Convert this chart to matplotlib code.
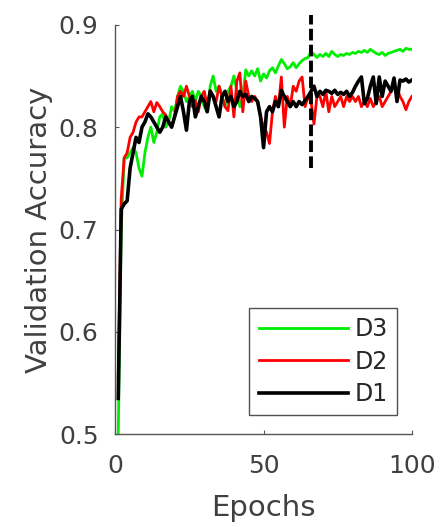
import numpy as np
import matplotlib
matplotlib.use('Agg')
import matplotlib.pyplot as plt

plt.rcParams['font.family'] = ['DejaVu Sans']

# validation accuracy per epoch (1..100) for the three datasets
epochs = np.arange(1, 101)

acc_d3 = [0.500, 0.700, 0.770, 0.770, 0.775, 0.780, 0.775, 0.760, 0.752, 0.775,
          0.790, 0.800, 0.785, 0.795, 0.810, 0.813, 0.800, 0.805, 0.820, 0.815,
          0.830, 0.840, 0.835, 0.825, 0.830, 0.835, 0.825, 0.835, 0.830, 0.820,
          0.815, 0.840, 0.850, 0.835, 0.840, 0.830, 0.820, 0.835, 0.840, 0.850,
          0.835, 0.820, 0.830, 0.856, 0.850, 0.855, 0.850, 0.857, 0.845, 0.852,
          0.848, 0.855, 0.858, 0.853, 0.860, 0.866, 0.862, 0.857, 0.859, 0.863,
          0.858, 0.862, 0.865, 0.867, 0.868, 0.874, 0.871, 0.868, 0.871, 0.869,
          0.872, 0.869, 0.874, 0.871, 0.869, 0.871, 0.870, 0.872, 0.871, 0.873,
          0.872, 0.874, 0.873, 0.875, 0.873, 0.876, 0.874, 0.872, 0.871, 0.873,
          0.870, 0.872, 0.873, 0.874, 0.875, 0.876, 0.874, 0.877, 0.876, 0.876]

acc_d2 = [0.555, 0.730, 0.770, 0.775, 0.790, 0.795, 0.805, 0.810, 0.810, 0.815,
          0.820, 0.825, 0.815, 0.824, 0.820, 0.815, 0.812, 0.805, 0.800, 0.810,
          0.830, 0.835, 0.830, 0.840, 0.830, 0.820, 0.826, 0.815, 0.830, 0.835,
          0.820, 0.836, 0.830, 0.825, 0.840, 0.830, 0.820, 0.816, 0.840, 0.810,
          0.845, 0.853, 0.815, 0.845, 0.830, 0.825, 0.830, 0.825, 0.810, 0.800,
          0.795, 0.784, 0.815, 0.830, 0.820, 0.849, 0.800, 0.830, 0.820, 0.840,
          0.835, 0.845, 0.849, 0.820, 0.830, 0.825, 0.803, 0.830, 0.830, 0.820,
          0.835, 0.815, 0.830, 0.820, 0.825, 0.830, 0.820, 0.830, 0.825, 0.830,
          0.825, 0.830, 0.820, 0.825, 0.820, 0.828, 0.820, 0.825, 0.830, 0.820,
          0.825, 0.830, 0.835, 0.840, 0.838, 0.830, 0.825, 0.817, 0.825, 0.830]

acc_d1 = [0.535, 0.720, 0.725, 0.728, 0.760, 0.775, 0.790, 0.785, 0.800, 0.805,
          0.813, 0.810, 0.805, 0.800, 0.795, 0.800, 0.810, 0.805, 0.800, 0.810,
          0.820, 0.830, 0.815, 0.797, 0.825, 0.830, 0.810, 0.820, 0.830, 0.825,
          0.815, 0.835, 0.830, 0.820, 0.810, 0.830, 0.835, 0.825, 0.830, 0.820,
          0.825, 0.835, 0.830, 0.832, 0.825, 0.830, 0.828, 0.825, 0.810, 0.780,
          0.815, 0.820, 0.815, 0.825, 0.820, 0.836, 0.830, 0.825, 0.820, 0.825,
          0.820, 0.825, 0.822, 0.826, 0.830, 0.835, 0.840, 0.830, 0.835, 0.832,
          0.836, 0.835, 0.833, 0.836, 0.832, 0.834, 0.832, 0.835, 0.830, 0.834,
          0.840, 0.845, 0.849, 0.823, 0.828, 0.840, 0.849, 0.823, 0.849, 0.830,
          0.845, 0.840, 0.835, 0.848, 0.825, 0.846, 0.845, 0.847, 0.844, 0.846]

split_epoch = 66
split_span = (0.76, 0.91)

fig = plt.figure(figsize=(4.4, 5.27), dpi=100)
ax = fig.add_axes([0.262, 0.176, 0.674, 0.777])

l3, = ax.plot(epochs, acc_d3, color='#00ee00', lw=2.0, label='D3')
l2, = ax.plot(epochs, acc_d2, color='#ff0000', lw=2.0, label='D2')
l1, = ax.plot(epochs, acc_d1, color='#000000', lw=2.6, label='D1')

# dashed marker at the split epoch, drawn past the top of the axes
ax.plot([split_epoch, split_epoch], split_span, color='black', lw=2.8,
        dashes=(3, 1.1), clip_on=False)

ax.set_xlim(0, 100)
ax.set_ylim(0.5, 0.9)
ax.set_xticks([0, 50, 100])
ax.set_yticks([0.5, 0.6, 0.7, 0.8, 0.9])
ax.set_yticklabels(['0.5', '0.6', '0.7', '0.8', '0.9'])

for s in ['top', 'right']:
    ax.spines[s].set_visible(False)
for s in ['left', 'bottom']:
    ax.spines[s].set_color('#555555')
    ax.spines[s].set_linewidth(1.0)

ax.tick_params(direction='in', length=3, width=0.8, color='#555555',
               labelsize=18, labelcolor='#404040')
ax.tick_params(axis='x', pad=14)
ax.tick_params(axis='y', pad=12)

ax.set_xlabel('Epochs', fontsize=21, color='#404040', labelpad=12)
ax.set_ylabel('Validation Accuracy', fontsize=21, color='#404040', labelpad=4)

leg = ax.legend(handles=[l3, l2, l1], loc='lower right', fontsize=17,
                frameon=True, fancybox=False, handlelength=3.8,
                handletextpad=0.25, labelspacing=0.35, borderpad=0.4,
                borderaxespad=0, bbox_to_anchor=(0.95, 0.046))
leg.get_frame().set_edgecolor('#262626')
leg.get_frame().set_linewidth(1.0)
for t in leg.get_texts():
    t.set_color('#262626')

fig.savefig('out.png', dpi=100)
